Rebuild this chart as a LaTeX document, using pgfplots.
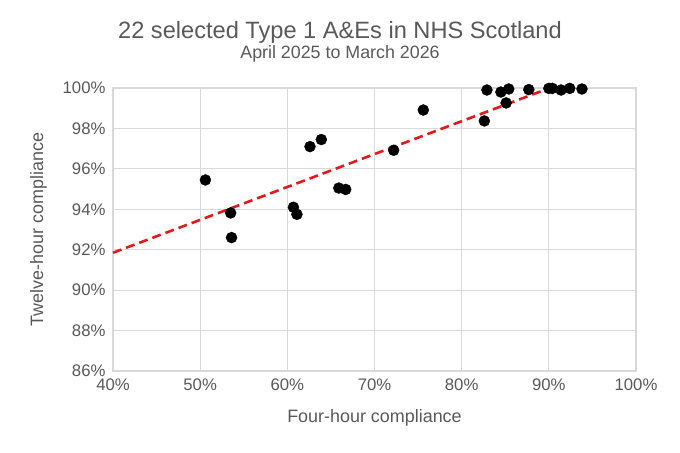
\documentclass[border=0pt]{standalone}
\usepackage{pgfplots}
\pgfplotsset{compat=1.18}
\usepackage{fontspec}
\setmainfont{Liberation Sans}
\definecolor{txt}{HTML}{595959}
\definecolor{grd}{HTML}{D9D9D9}
\definecolor{trend}{HTML}{E31A1C}
\begin{document}
\begin{tikzpicture}[x=1bp,y=1bp]
\useasboundingbox (0,0) rectangle (680,453);
\node[txt,font=\fontsize{23.7}{26}\selectfont] at (340,421) {22 selected Type 1 A\&Es in NHS Scotland};
\node[txt,font=\fontsize{17.9}{20}\selectfont] at (340,399.5) {April 2025 to March 2026};
\begin{axis}[
  at={(113bp,82bp)}, anchor=south west,
  scale only axis, width=523bp, height=283bp,
  xmin=40, xmax=100, ymin=86, ymax=100,
  xtick={40,50,...,100}, ytick={86,88,...,100},
  xticklabel={\pgfmathprintnumber{\tick}\%},
  yticklabel={\pgfmathprintnumber{\tick}\%},
  /pgf/number format/assume math mode=true,
  tick label style={txt,font=\fontsize{16.8}{19}\selectfont},
  xticklabel style={yshift=-4bp},
  yticklabel style={xshift=-4bp},
  grid=major, major grid style={grd,line width=1.2bp},
  axis line style={grd,line width=1.2bp},
  major tick length=0pt,
  xlabel={Four-hour compliance}, ylabel={Twelve-hour compliance},
  label style={txt,font=\fontsize{18}{20}\selectfont},
  xlabel style={at={(axis description cs:0.5,0)},anchor=center,yshift=-47bp},
  ylabel style={yshift=9bp},
  clip=false,
]
\addplot[trend, dashed, line width=2.6bp, dash pattern=on 9bp off 5bp] coordinates {(40,91.85) (90.1,100)};
\addplot[only marks, mark=*, mark size=5.5bp, black] coordinates {
(50.6,95.45) (53.5,93.82) (53.6,92.60) (60.7,94.10) (61.1,93.75)
(62.6,97.10) (63.9,97.45) (65.9,95.05) (66.7,94.98) (72.2,96.92)
(75.6,98.91) (82.6,98.37) (82.9,99.90) (84.5,99.80) (85.1,99.26)
(85.4,99.95) (87.7,99.92) (90.0,99.98) (90.4,99.98) (91.4,99.90)
(92.4,99.98) (93.8,99.95)};
\end{axis}
\end{tikzpicture}
\end{document}
